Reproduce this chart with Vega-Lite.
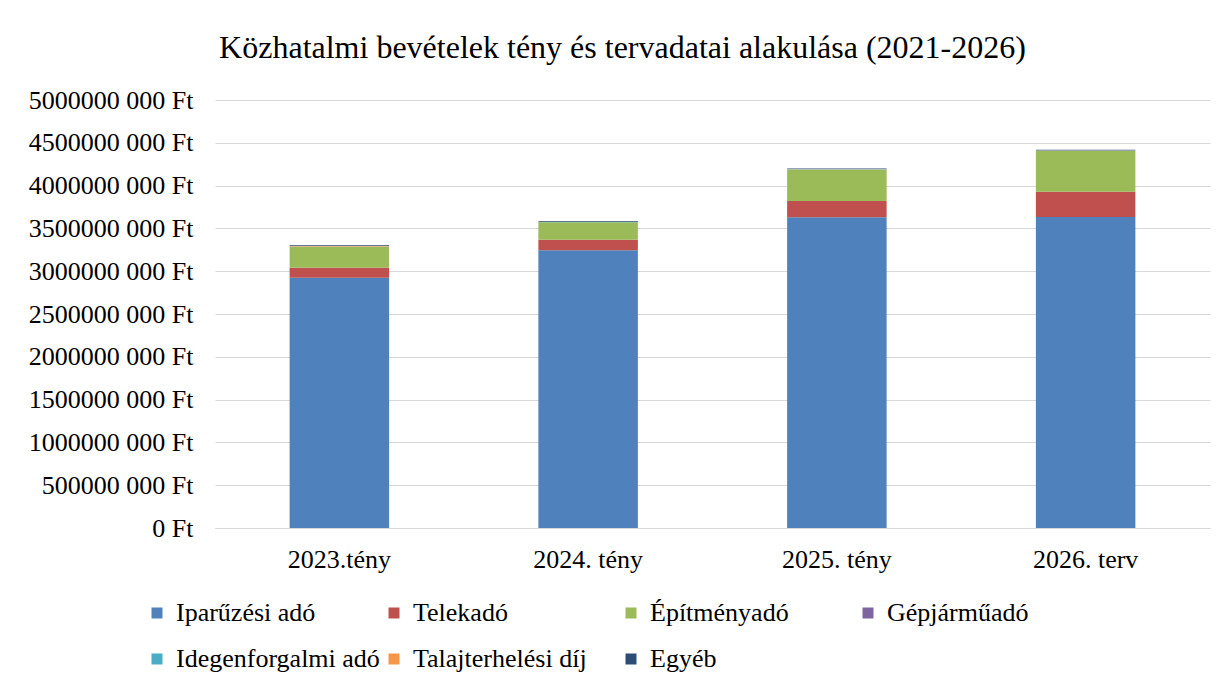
{
  "$schema": "https://vega.github.io/schema/vega-lite/v6.json",
  "width": 995,
  "height": 428,
  "autosize": {"type": "none"},
  "padding": {"left": 215, "top": 100, "right": 13, "bottom": 158},
  "background": "white",
  "title": {
    "text": "Közhatalmi bevételek tény és tervadatai alakulása (2021-2026)",
    "font": "Liberation Serif",
    "fontSize": 32,
    "fontWeight": "normal",
    "color": "#000000",
    "anchor": "middle",
    "frame": "group",
    "dx": -90,
    "offset": 22
  },
  "data": {
    "values": [
      {"ev": "2023.tény", "tetel": "Iparűzési adó", "idx": 1, "ertek": 2924000000},
      {"ev": "2023.tény", "tetel": "Telekadó", "idx": 2, "ertek": 117000000},
      {"ev": "2023.tény", "tetel": "Építményadó", "idx": 3, "ertek": 245000000},
      {"ev": "2023.tény", "tetel": "Gépjárműadó", "idx": 4, "ertek": 0},
      {"ev": "2023.tény", "tetel": "Idegenforgalmi adó", "idx": 5, "ertek": 4000000},
      {"ev": "2023.tény", "tetel": "Talajterhelési díj", "idx": 6, "ertek": 3000000},
      {"ev": "2023.tény", "tetel": "Egyéb", "idx": 7, "ertek": 9000000},
      {"ev": "2024. tény", "tetel": "Iparűzési adó", "idx": 1, "ertek": 3244000000},
      {"ev": "2024. tény", "tetel": "Telekadó", "idx": 2, "ertek": 124000000},
      {"ev": "2024. tény", "tetel": "Építményadó", "idx": 3, "ertek": 203000000},
      {"ev": "2024. tény", "tetel": "Gépjárműadó", "idx": 4, "ertek": 0},
      {"ev": "2024. tény", "tetel": "Idegenforgalmi adó", "idx": 5, "ertek": 4000000},
      {"ev": "2024. tény", "tetel": "Talajterhelési díj", "idx": 6, "ertek": 3000000},
      {"ev": "2024. tény", "tetel": "Egyéb", "idx": 7, "ertek": 8000000},
      {"ev": "2025. tény", "tetel": "Iparűzési adó", "idx": 1, "ertek": 3630000000},
      {"ev": "2025. tény", "tetel": "Telekadó", "idx": 2, "ertek": 190000000},
      {"ev": "2025. tény", "tetel": "Építményadó", "idx": 3, "ertek": 366000000},
      {"ev": "2025. tény", "tetel": "Gépjárműadó", "idx": 4, "ertek": 0},
      {"ev": "2025. tény", "tetel": "Idegenforgalmi adó", "idx": 5, "ertek": 5000000},
      {"ev": "2025. tény", "tetel": "Talajterhelési díj", "idx": 6, "ertek": 3000000},
      {"ev": "2025. tény", "tetel": "Egyéb", "idx": 7, "ertek": 6000000},
      {"ev": "2026. terv", "tetel": "Iparűzési adó", "idx": 1, "ertek": 3633000000},
      {"ev": "2026. terv", "tetel": "Telekadó", "idx": 2, "ertek": 296000000},
      {"ev": "2026. terv", "tetel": "Építményadó", "idx": 3, "ertek": 475000000},
      {"ev": "2026. terv", "tetel": "Gépjárműadó", "idx": 4, "ertek": 0},
      {"ev": "2026. terv", "tetel": "Idegenforgalmi adó", "idx": 5, "ertek": 5000000},
      {"ev": "2026. terv", "tetel": "Talajterhelési díj", "idx": 6, "ertek": 3000000},
      {"ev": "2026. terv", "tetel": "Egyéb", "idx": 7, "ertek": 6000000}
    ]
  },
  "mark": {"type": "bar"},
  "encoding": {
    "x": {
      "field": "ev",
      "type": "nominal",
      "sort": null,
      "scale": {"paddingInner": 0.6, "paddingOuter": 0.3},
      "axis": {
        "title": null,
        "labelAngle": 0,
        "labelFont": "Liberation Serif",
        "labelFontSize": 26,
        "labelColor": "#000000",
        "labelPadding": 18,
        "ticks": false,
        "domainColor": "#D9D9D9",
        "domainWidth": 1
      }
    },
    "y": {
      "field": "ertek",
      "type": "quantitative",
      "stack": "zero",
      "scale": {"domain": [0, 5000000000], "nice": false},
      "axis": {
        "title": null,
        "values": [0, 500000000, 1000000000, 1500000000, 2000000000, 2500000000, 3000000000, 3500000000, 4000000000, 4500000000, 5000000000],
        "labelExpr": "datum.value == 0 ? '0 Ft' : format(datum.value / 1000, 'd') + ' 000 Ft'",
        "labelFont": "Liberation Serif",
        "labelFontSize": 26,
        "labelColor": "#000000",
        "labelPadding": 22,
        "ticks": false,
        "domain": false,
        "grid": true,
        "gridColor": "#D9D9D9",
        "gridWidth": 1
      }
    },
    "color": {
      "field": "tetel",
      "type": "nominal",
      "scale": {
        "domain": ["Iparűzési adó", "Telekadó", "Építményadó", "Gépjárműadó", "Idegenforgalmi adó", "Talajterhelési díj", "Egyéb"],
        "range": ["#4F81BD", "#C0504D", "#9BBB59", "#8064A2", "#4BACC6", "#F79646", "#2C4D75"]
      },
      "legend": {
        "title": null,
        "orient": "none",
        "legendX": -71,
        "legendY": 500,
        "direction": "horizontal",
        "columns": 4,
        "gridAlign": "all",
        "columnPadding": 1,
        "rowPadding": 20,
        "symbolType": "square",
        "symbolSize": 121,
        "symbolStrokeWidth": 0,
        "labelFont": "Liberation Serif",
        "labelFontSize": 26,
        "labelColor": "#000000",
        "labelOffset": 6,
        "labelLimit": 300,
        "encode": {
          "symbols": {"update": {"shape": {"value": "square"}}},
          "labels": {"update": {"font": {"value": "Liberation Serif"}, "fontSize": {"value": 26}}}
        }
      }
    },
    "order": {"field": "idx", "type": "quantitative", "sort": "ascending"}
  },
  "config": {"view": {"stroke": null}, "legend": {"labelFont": "Liberation Serif"}}
}
